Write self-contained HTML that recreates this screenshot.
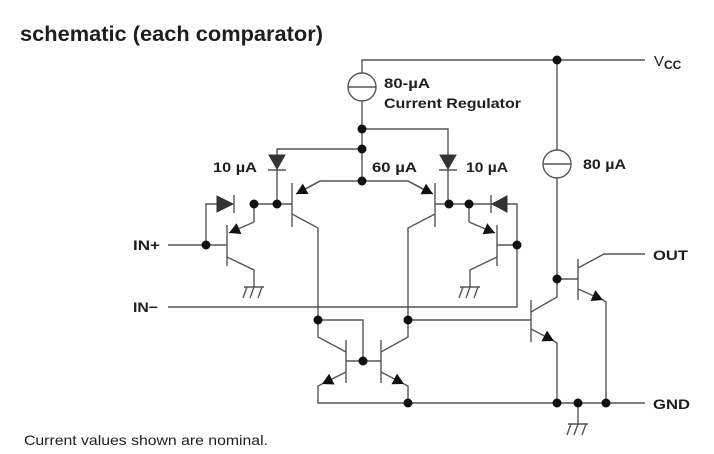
<!DOCTYPE html>
<html><head><meta charset="utf-8"><style>
html,body{margin:0;padding:0;background:#fff;}
svg{display:block;}
text{font-family:"Liberation Sans",Arial,sans-serif;fill:#1e1e1e;}
.b{font-weight:bold;font-size:14px;}
</style></head><body>
<svg width="714" height="454" viewBox="0 0 714 454" xmlns="http://www.w3.org/2000/svg">
<defs>
<marker id="a" markerUnits="userSpaceOnUse" markerWidth="12" markerHeight="12" refX="11" refY="6" orient="auto">
<path d="M0,0 L11,6 L0,12 z" fill="#111"/>
</marker>
</defs>
<text x="20" y="41" font-size="21" font-weight="bold" textLength="303" lengthAdjust="spacingAndGlyphs">schematic (each comparator)</text>
<g stroke="#555" stroke-width="1.4" fill="none">
<polyline points="362,73 362,60 645,60"/>
<circle cx="362" cy="87" r="14" fill="#fff"/>
<line x1="348" y1="87" x2="376" y2="87"/>
<line x1="362" y1="101" x2="362" y2="181"/>
<polyline points="362,129 448,129 448,155"/>
<polyline points="362,149 277,149 277,155"/>
<line x1="268" y1="170" x2="286" y2="170"/>
<line x1="277" y1="170" x2="277" y2="204"/>
<line x1="439" y1="170" x2="457" y2="170"/>
<line x1="448" y1="170" x2="448" y2="204"/>
<line x1="292" y1="183" x2="292" y2="227"/>
<polyline points="362,181 320,181 298,193"/>
<line x1="320" y1="181" x2="296" y2="194" marker-end="url(#a)"/>
<polyline points="292,214 318,228 318,320"/>
<line x1="254" y1="204" x2="292" y2="204"/>
<line x1="435" y1="183" x2="435" y2="227"/>
<polyline points="362,181 408,181 430,193"/>
<line x1="408" y1="181" x2="433" y2="194" marker-end="url(#a)"/>
<polyline points="435,214 408,228 408,320"/>
<line x1="435" y1="204" x2="492" y2="204"/>
<polyline points="217,204 206,204 206,245"/>
<line x1="234" y1="195" x2="234" y2="213"/>
<line x1="168" y1="245" x2="227" y2="245"/>
<line x1="227" y1="225" x2="227" y2="266"/>
<polyline points="254,204 254,222"/>
<line x1="254" y1="222" x2="229" y2="233" marker-end="url(#a)"/>
<polyline points="227,257 254,270 254,287"/>
<line x1="244" y1="287" x2="264" y2="287"/>
<line x1="247" y1="287" x2="243" y2="298"/><line x1="254" y1="287" x2="250" y2="298"/><line x1="262" y1="287" x2="258" y2="298"/>
<line x1="491" y1="195" x2="491" y2="213"/>
<polyline points="507,204 517,204 517,307 168,307"/>
<line x1="497" y1="225" x2="497" y2="266"/>
<line x1="497" y1="245" x2="517" y2="245"/>
<polyline points="469,204 469,222"/>
<line x1="469" y1="222" x2="495" y2="233" marker-end="url(#a)"/>
<polyline points="497,257 470,270 470,287"/>
<line x1="460" y1="287" x2="480" y2="287"/>
<line x1="463" y1="287" x2="459" y2="298"/><line x1="470" y1="287" x2="466" y2="298"/><line x1="478" y1="287" x2="474" y2="298"/>
<polyline points="318,320 363,320 363,361"/>
<line x1="346" y1="361" x2="381" y2="361"/>
<line x1="346" y1="340" x2="346" y2="383"/>
<line x1="381" y1="340" x2="381" y2="383"/>
<polyline points="318,320 318,337 346,352"/>
<polyline points="408,320 408,337 381,352"/>
<line x1="346" y1="372" x2="322" y2="384" marker-end="url(#a)"/>
<polyline points="322,384 318,386 318,403 645,403"/>
<line x1="381" y1="372" x2="404" y2="384" marker-end="url(#a)"/>
<polyline points="404,384 408,386 408,403"/>
<line x1="408" y1="320" x2="531" y2="320"/>
<line x1="531" y1="300" x2="531" y2="342"/>
<polyline points="531,312 557,297 557,279"/>
<line x1="531" y1="329" x2="554" y2="341" marker-end="url(#a)"/>
<polyline points="554,341 557,343 557,403"/>
<line x1="557" y1="60" x2="557" y2="150"/>
<circle cx="557" cy="164" r="14" fill="#fff"/>
<line x1="543" y1="164" x2="571" y2="164"/>
<line x1="557" y1="178" x2="557" y2="279"/>
<line x1="578" y1="259" x2="578" y2="300"/>
<line x1="557" y1="279" x2="578" y2="279"/>
<polyline points="578,268 604,254 645,254"/>
<line x1="578" y1="289" x2="603" y2="300" marker-end="url(#a)"/>
<polyline points="603,300 606,302 606,403"/>
<line x1="578" y1="403" x2="578" y2="424"/>
<line x1="568" y1="424" x2="588" y2="424"/>
<line x1="571" y1="424" x2="567" y2="435"/><line x1="578" y1="424" x2="574" y2="435"/><line x1="586" y1="424" x2="582" y2="435"/>
</g>
<g fill="#333" stroke="#333" stroke-width="1">
<polygon points="269,155 285,155 277,169"/>
<polygon points="440,155 456,155 448,169"/>
<polygon points="217,196 217,212 233,204"/>
<polygon points="507,196 507,212 492,204"/>
</g>
<g fill="#111">
<circle cx="362" cy="129" r="4.5"/><circle cx="362" cy="149" r="4.5"/><circle cx="362" cy="181" r="4.5"/>
<circle cx="277" cy="204" r="4.5"/><circle cx="254" cy="204" r="4.5"/><circle cx="206" cy="245" r="4.5"/>
<circle cx="449" cy="204" r="4.5"/><circle cx="469" cy="204" r="4.5"/><circle cx="517" cy="245" r="4.5"/>
<circle cx="318" cy="320" r="4.5"/><circle cx="408" cy="320" r="4.5"/><circle cx="363" cy="361" r="4.5"/>
<circle cx="408" cy="403" r="4.5"/><circle cx="557" cy="403" r="4.5"/><circle cx="578" cy="403" r="4.5"/>
<circle cx="606" cy="403" r="4.5"/><circle cx="557" cy="279" r="4.5"/><circle cx="557" cy="60" r="4.5"/>
</g>
<text class="b" x="384" y="88" textLength="46" lengthAdjust="spacingAndGlyphs">80-µA</text>
<text class="b" x="384" y="108" textLength="137" lengthAdjust="spacingAndGlyphs">Current Regulator</text>
<text class="b" x="213" y="172" textLength="44" lengthAdjust="spacingAndGlyphs">10 µA</text>
<text class="b" x="372" y="172" textLength="45" lengthAdjust="spacingAndGlyphs">60 µA</text>
<text class="b" x="466" y="172" textLength="42" lengthAdjust="spacingAndGlyphs">10 µA</text>
<text class="b" x="583" y="169" textLength="43" lengthAdjust="spacingAndGlyphs">80 µA</text>
<text class="b" x="133" y="250" textLength="27" lengthAdjust="spacingAndGlyphs">IN+</text>
<text class="b" x="133" y="312" textLength="25" lengthAdjust="spacingAndGlyphs">IN−</text>
<text class="b" x="653" y="260" textLength="35" lengthAdjust="spacingAndGlyphs">OUT</text>
<text class="b" x="653" y="409" textLength="37" lengthAdjust="spacingAndGlyphs">GND</text>
<text x="654" y="66" font-size="15">V<tspan font-size="12" dy="3" font-weight="bold">CC</tspan></text>
<text x="24" y="445" font-size="14" textLength="244" lengthAdjust="spacingAndGlyphs">Current values shown are nominal.</text>
</svg>
</body></html>
